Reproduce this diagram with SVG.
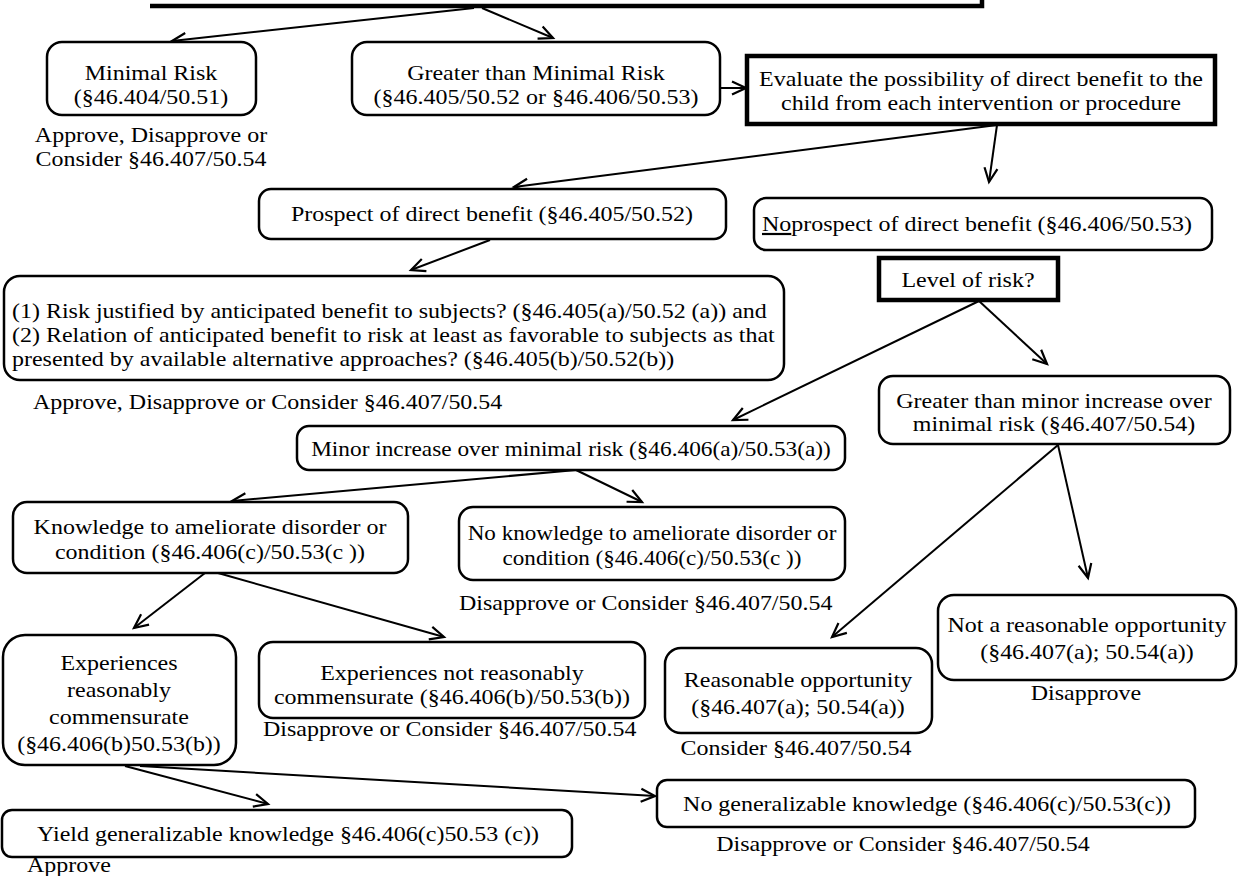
<svg xmlns="http://www.w3.org/2000/svg" width="1239" height="876" viewBox="0 0 1239 876">
<defs>
<style>
.b{fill:#fff;stroke:#000;stroke-width:2.5}
.t{fill:#fff;stroke:#000;stroke-width:4.5}
text{font-family:"Liberation Serif","Times New Roman",serif;font-size:22px;fill:#000}
.c{text-anchor:middle}
.e line{stroke:#000;stroke-width:2;fill:none}
</style>
<marker id="a" markerUnits="userSpaceOnUse" markerWidth="18" markerHeight="16" refX="15" refY="8" orient="auto">
<path d="M1,1.5 L15,8 L1,14.5" fill="none" stroke="#000" stroke-width="2.2"/>
</marker>
</defs>
<rect width="1239" height="876" fill="#fff"/>
<g id="top"><path d="M150,6 H982 V-4" fill="none" stroke="#000" stroke-width="4.5"/></g>
<g class="e" id="connectors">
<line x1="474" y1="8" x2="172" y2="41" marker-end="url(#a)"/>
<line x1="482" y1="8" x2="553" y2="38" marker-end="url(#a)"/>
<line x1="720" y1="88" x2="746" y2="88" marker-end="url(#a)"/>
<line x1="997" y1="125" x2="514" y2="187" marker-end="url(#a)"/>
<line x1="997" y1="125" x2="989" y2="182" marker-end="url(#a)"/>
<line x1="490" y1="240" x2="411" y2="270" marker-end="url(#a)"/>
<line x1="979" y1="301" x2="733" y2="420" marker-end="url(#a)"/>
<line x1="979" y1="301" x2="1047" y2="364" marker-end="url(#a)"/>
<line x1="576" y1="470" x2="232" y2="501" marker-end="url(#a)"/>
<line x1="576" y1="470" x2="642" y2="502" marker-end="url(#a)"/>
<line x1="1058" y1="445" x2="1088" y2="578" marker-end="url(#a)"/>
<line x1="1058" y1="445" x2="832" y2="637" marker-end="url(#a)"/>
<line x1="205" y1="573" x2="134" y2="628" marker-end="url(#a)"/>
<line x1="218" y1="573" x2="444" y2="637" marker-end="url(#a)"/>
<line x1="125" y1="766" x2="268" y2="804" marker-end="url(#a)"/>
<line x1="140" y1="766" x2="655" y2="796" marker-end="url(#a)"/>
</g>
<g id="minimal"><rect class="b" x="47" y="42" width="209" height="73" rx="15"/>
<g transform="matrix(1.09,0,0,1,-13.59,0)"><text class="c" x="151" y="80">Minimal Risk</text><text class="c" x="151" y="104">(§46.404/50.51)</text></g></g>
<g id="minimal-note" transform="matrix(1.09,0,0,1,-13.59,0)"><text class="c" x="151" y="142">Approve, Disapprove or</text><text class="c" x="151" y="166">Consider §46.407/50.54</text></g>
<g id="greater"><rect class="b" x="352" y="42" width="368" height="73" rx="15"/>
<g transform="matrix(1.09,0,0,1,-48.24,0)"><text class="c" x="536" y="80">Greater than Minimal Risk</text><text class="c" x="536" y="104">(§46.405/50.52 or §46.406/50.53)</text></g></g>
<g id="evaluate"><rect class="t" x="747" y="56" width="468" height="68"/>
<g transform="matrix(1.09,0,0,1,-88.29,0)"><text class="c" x="981" y="86">Evaluate the possibility of direct benefit to the</text><text class="c" x="981" y="110">child from each intervention or procedure</text></g></g>
<g id="prospect"><rect class="b" x="259" y="189" width="467" height="50" rx="12"/>
<g transform="matrix(1.09,0,0,1,-44.28,0)"><text class="c" x="492" y="221">Prospect of direct benefit (§46.405/50.52)</text></g></g>
<g id="noprospect"><rect class="b" x="754" y="198" width="458" height="52" rx="12"/>
<g transform="matrix(1.09,0,0,1,-68.58,0)"><text x="762" y="231"><tspan text-decoration="underline">No</tspan>prospect of direct benefit (§46.406/50.53)</text></g></g>
<g id="level"><rect class="t" x="879" y="258" width="179" height="42"/>
<g transform="matrix(1.09,0,0,1,-87.12,0)"><text class="c" x="968" y="287">Level of risk?</text></g></g>
<g id="justified"><rect class="b" x="4" y="276" width="780" height="104" rx="16"/>
<g transform="matrix(1.09,0,0,1,-1.08,0)"><text x="12" y="318">(1) Risk justified by anticipated benefit to subjects? (§46.405(a)/50.52 (a)) and</text>
<text x="12" y="342">(2) Relation of anticipated benefit to risk at least as favorable to subjects as that</text>
<text x="12" y="366">presented by available alternative approaches? (§46.405(b)/50.52(b))</text></g></g>
<g id="justified-note" transform="matrix(1.09,0,0,1,-2.97,0)"><text x="33" y="409">Approve, Disapprove or Consider §46.407/50.54</text></g>
<g id="greaterminor"><rect class="b" x="879" y="376" width="351" height="68" rx="14"/>
<g transform="matrix(1.09,0,0,1,-94.86,0)"><text class="c" x="1054" y="408">Greater than minor increase over</text><text class="c" x="1054" y="431">minimal risk  (§46.407/50.54)</text></g></g>
<g id="minor"><rect class="b" x="297" y="426" width="548" height="44" rx="12"/>
<g transform="matrix(1.06,0,0,1,-34.26,0)"><text class="c" x="571" y="456">Minor increase over minimal risk (§46.406(a)/50.53(a))</text></g></g>
<g id="knowledge"><rect class="b" x="13" y="502" width="395" height="71" rx="14"/>
<g transform="matrix(1.09,0,0,1,-18.9,0)"><text class="c" x="210" y="534">Knowledge to ameliorate disorder or</text><text class="c" x="210" y="559">condition (§46.406(c)/50.53(c ))</text></g></g>
<g id="noknowledge"><rect class="b" x="459" y="507" width="386" height="73" rx="14"/>
<g transform="matrix(1.05,0,0,1,-32.6,0)"><text class="c" x="652" y="540">No knowledge to ameliorate disorder or</text><text class="c" x="652" y="565">condition (§46.406(c)/50.53(c ))</text></g></g>
<g id="noknowledge-note" transform="matrix(1.09,0,0,1,-41.31,0)"><text x="459" y="610">Disapprove or Consider §46.407/50.54</text></g>
<g id="experiences"><rect class="b" x="3" y="635" width="233" height="130" rx="22"/>
<g transform="matrix(1.09,0,0,1,-10.71,0)"><text class="c" x="119" y="670">Experiences</text><text class="c" x="119" y="697">reasonably</text><text class="c" x="119" y="724">commensurate</text><text class="c" x="119" y="751">(§46.406(b)50.53(b))</text></g></g>
<g id="notcommensurate"><rect class="b" x="259" y="642" width="386" height="76" rx="14"/>
<g transform="matrix(1.09,0,0,1,-40.68,0)"><text class="c" x="452" y="680">Experiences not reasonably</text><text class="c" x="452" y="704">commensurate (§46.406(b)/50.53(b))</text></g></g>
<g id="notcommensurate-note" transform="matrix(1.09,0,0,1,-23.67,0)"><text x="263" y="736">Disapprove or Consider §46.407/50.54</text></g>
<g id="reasonable"><rect class="b" x="665" y="648" width="267" height="85" rx="16"/>
<g transform="matrix(1.09,0,0,1,-71.82,0)"><text class="c" x="798" y="687">Reasonable opportunity</text><text class="c" x="798" y="714">(§46.407(a); 50.54(a))</text></g></g>
<g id="reasonable-note" transform="matrix(1.09,0,0,1,-71.64,0)"><text class="c" x="796" y="755">Consider §46.407/50.54</text></g>
<g id="notreasonable"><rect class="b" x="938" y="595" width="298" height="85" rx="16"/>
<g transform="matrix(1.09,0,0,1,-97.83,0)"><text class="c" x="1087" y="632">Not a reasonable  opportunity</text><text class="c" x="1087" y="659">(§46.407(a); 50.54(a))</text></g></g>
<g id="notreasonable-note" transform="matrix(1.09,0,0,1,-97.74,0)"><text class="c" x="1086" y="700">Disapprove</text></g>
<g id="yield"><rect class="b" x="2" y="810" width="570" height="47" rx="10"/>
<g transform="matrix(1.09,0,0,1,-25.92,0)"><text class="c" x="288" y="841">Yield generalizable knowledge §46.406(c)50.53 (c))</text></g></g>
<g id="yield-note" transform="matrix(1.09,0,0,1,-2.43,0)"><text x="27" y="872">Approve</text></g>
<g id="nogen"><rect class="b" x="657" y="780" width="538" height="47" rx="10"/>
<g transform="matrix(1.09,0,0,1,-83.43,0)"><text class="c" x="927" y="811">No generalizable knowledge (§46.406(c)/50.53(c))</text></g></g>
<g id="nogen-note" transform="matrix(1.09,0,0,1,-81.27,0)"><text class="c" x="903" y="851">Disapprove or Consider §46.407/50.54</text></g>
</svg>
